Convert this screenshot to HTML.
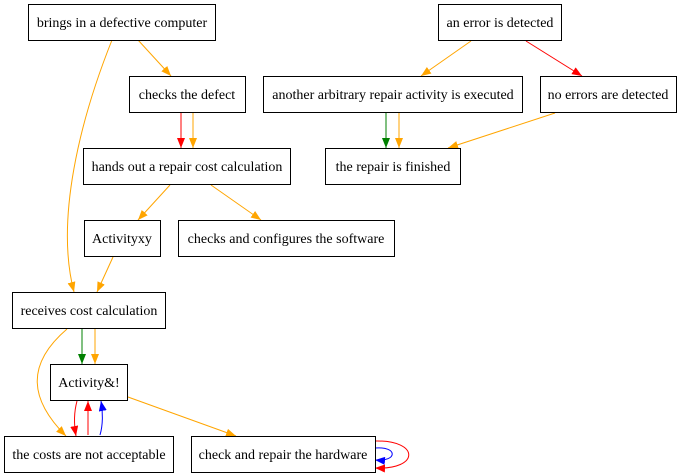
<!DOCTYPE html>
<html><head><style>body{margin:0;background:#fff}svg{display:block}text{font-family:"Liberation Serif",serif;font-size:14px;text-anchor:middle}</style></head><body>
<svg width="679" height="476" viewBox="0 0 679 476" xmlns="http://www.w3.org/2000/svg">
<defs>
<marker id="o" markerWidth="10" markerHeight="8" refX="10" refY="4" orient="auto" markerUnits="userSpaceOnUse"><path d="M0,0L10,4L0,8z" fill="orange"/></marker>
<marker id="r" markerWidth="10" markerHeight="8" refX="10" refY="4" orient="auto" markerUnits="userSpaceOnUse"><path d="M0,0L10,4L0,8z" fill="red"/></marker>
<marker id="g" markerWidth="10" markerHeight="8" refX="10" refY="4" orient="auto" markerUnits="userSpaceOnUse"><path d="M0,0L10,4L0,8z" fill="green"/></marker>
<marker id="b" markerWidth="10" markerHeight="8" refX="10" refY="4" orient="auto" markerUnits="userSpaceOnUse"><path d="M0,0L10,4L0,8z" fill="blue"/></marker>
</defs>
<g fill="none" stroke-width="1">
<path d="M138,40L171,76" stroke="orange" marker-end="url(#o)"/>
<path d="M112,40C80,120 55,220 74,292" stroke="orange" marker-end="url(#o)"/>
<path d="M181,113L181,148" stroke="red" marker-end="url(#r)"/>
<path d="M193,113L193,148" stroke="orange" marker-end="url(#o)"/>
<path d="M170,185L138,220" stroke="orange" marker-end="url(#o)"/>
<path d="M211,185L261,220" stroke="orange" marker-end="url(#o)"/>
<path d="M113,257L97,292" stroke="orange" marker-end="url(#o)"/>
<path d="M82,329L82,364" stroke="green" marker-end="url(#g)"/>
<path d="M95,329L95,364" stroke="orange" marker-end="url(#o)"/>
<path d="M67,329C25,365 30,400 66,436" stroke="orange" marker-end="url(#o)"/>
<path d="M77,401C74,412 74,425 76,436" stroke="red" marker-end="url(#r)"/>
<path d="M88,435L88,401" stroke="red" marker-end="url(#r)"/>
<path d="M100,435C103,425 103,412 101,401" stroke="blue" marker-end="url(#b)"/>
<path d="M128,397L236,436" stroke="orange" marker-end="url(#o)"/>
<path d="M375,441C420,440 420,470 375,468" stroke="red" marker-end="url(#r)"/>
<path d="M375,448C398,446 398,462 375,460" stroke="blue" marker-end="url(#b)"/>
<path d="M471,41L421,76" stroke="orange" marker-end="url(#o)"/>
<path d="M526,41L582,76" stroke="red" marker-end="url(#r)"/>
<path d="M386,113L386,148" stroke="green" marker-end="url(#g)"/>
<path d="M399,113L399,148" stroke="orange" marker-end="url(#o)"/>
<path d="M555,113L448,148" stroke="orange" marker-end="url(#o)"/>
</g>
<g fill="#fff" stroke="#000" stroke-width="1">
<rect x="28.5" y="4.5" width="187" height="36"/>
<rect x="438.5" y="4.5" width="123" height="36"/>
<rect x="129.5" y="76.5" width="116" height="36"/>
<rect x="263.5" y="76.5" width="259" height="36"/>
<rect x="540.5" y="76.5" width="136" height="36"/>
<rect x="83.5" y="148.5" width="207" height="36"/>
<rect x="325.5" y="148.5" width="135" height="36"/>
<rect x="84.5" y="220.5" width="76" height="36"/>
<rect x="178.5" y="220.5" width="216" height="36"/>
<rect x="12.5" y="292.5" width="153" height="36"/>
<rect x="50.5" y="364.5" width="77" height="36"/>
<rect x="4.5" y="436.5" width="169" height="36"/>
<rect x="191.5" y="436.5" width="184" height="36"/>
</g>
<g fill="#000">
<text x="122" y="27">brings in a defective computer</text>
<text x="500" y="27">an error is detected</text>
<text x="187" y="99">checks the defect</text>
<text x="393" y="99">another arbitrary repair activity is executed</text>
<text x="608" y="99">no errors are detected</text>
<text x="187" y="171">hands out a repair cost calculation</text>
<text x="393" y="171">the repair is finished</text>
<text x="122" y="243">Activityxy</text>
<text x="286" y="243">checks and configures the software</text>
<text x="89" y="315">receives cost calculation</text>
<text x="89" y="387">Activity&amp;!</text>
<text x="89" y="459">the costs are not acceptable</text>
<text x="283" y="459">check and repair the hardware</text>
</g>
</svg>
</body></html>
